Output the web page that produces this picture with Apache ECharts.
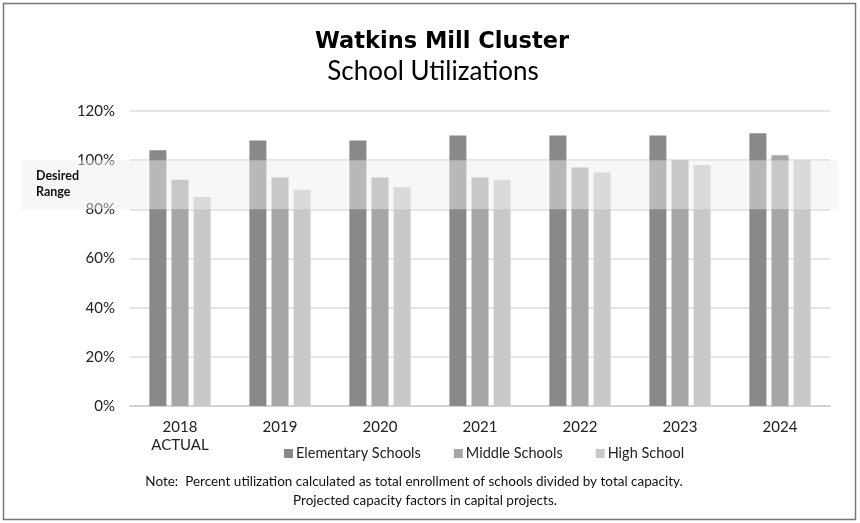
<!DOCTYPE html>
<html>
<head>
<meta charset="utf-8">
<script src="https://cdn.jsdelivr.net/npm/echarts@6/dist/echarts.min.js"></script>
<style>
  html, body { margin: 0; padding: 0; background: #fff; }
  #chart { width: 860px; height: 523px; }
</style>
</head>
<body>
<div id="chart"></div>
<script>
// Данные графика
const years = ["2018\nACTUAL", "2019", "2020", "2021", "2022", "2023", "2024"];
const elementary = [104, 108, 108, 110, 110, 110, 111];
const middle = [92, 93, 93, 93, 97, 100, 102];
const high = [85, 88, 89, 92, 95, 98, 100];
const seriesNames = ["Elementary Schools", "Middle Schools", "High School"];
const desiredRange = [80, 100];

const FONT = "Lato, 'Open Sans', sans-serif";
const chart = echarts.init(document.getElementById("chart"));

const barSeries = (name, data, color) => ({
    name: name,
    type: "bar",
    data: data,
    barWidth: 17,
    barGap: "30%",
    itemStyle: { color: color },
    emphasis: { disabled: true }
});

chart.setOption({
    animation: false,
    title: [
        {
            text: "Watkins Mill Cluster",
            left: 437, textAlign: "center", top: 26,
            textStyle: { fontFamily: "'DejaVu Sans', sans-serif", fontSize: 22.5, fontWeight: "bold", color: "#000" }
        },
        {
            text: "School Utilizations",
            left: 428, textAlign: "center", top: 54,
            textStyle: { fontFamily: FONT, fontSize: 26, fontWeight: "normal", color: "#000" }
        }
    ],
    grid: { left: 130, right: 30, top: 111, bottom: 117 },
    legend: {
        data: seriesNames,
        left: 279, top: 441,
        itemWidth: 9, itemHeight: 9, itemGap: 33,
        icon: "rect",
        textStyle: { fontFamily: FONT, fontSize: 14.5, color: "#222", padding: [0, 0, 0, -2] }
    },
    xAxis: {
        type: "category",
        data: years,
        axisLine: { lineStyle: { color: "#d4d4d4", width: 2 } },
        axisTick: { show: false },
        axisLabel: { fontFamily: FONT, fontSize: 15, color: "#222", margin: 12, lineHeight: 18 }
    },
    yAxis: {
        type: "value",
        min: 0, max: 120, interval: 20,
        axisLabel: { formatter: "{value}%", fontFamily: FONT, fontSize: 15, color: "#222", margin: 15 },
        splitLine: { lineStyle: { color: "#dcdcdc", width: 1.5 } }
    },
    series: [
        barSeries(seriesNames[0], elementary, "#898989"),
        barSeries(seriesNames[1], middle, "#a6a6a6"),
        barSeries(seriesNames[2], high, "#c9c9c9")
    ]
});

// Полоса "Desired Range" поверх столбцов
const yTop = chart.convertToPixel({ yAxisIndex: 0 }, desiredRange[1]);
const yBot = chart.convertToPixel({ yAxisIndex: 0 }, desiredRange[0]);

chart.setOption({
    graphic: [
        {
            type: "rect", z: 100, silent: true,
            shape: { x: 22, y: yTop, width: 816, height: yBot - yTop },
            style: { fill: "rgba(238,238,238,0.47)" }
        },
        {
            type: "text", z: 101, silent: true,
            x: 36, y: (yTop + yBot) / 2 - 17,
            style: { text: "Desired\nRange", fontFamily: FONT, fontSize: 12.5, fontWeight: "bold", fill: "#111", lineHeight: 16 }
        },
        {
            type: "text", z: 101, silent: true,
            x: 414, y: 482,
            style: {
                text: "Note:  Percent utilization calculated as total enrollment of schools divided by total capacity.",
                fontFamily: FONT, fontSize: 13.5, fill: "#111", align: "center", verticalAlign: "middle"
            }
        },
        {
            type: "text", z: 101, silent: true,
            x: 425, y: 501,
            style: {
                text: "Projected capacity factors in capital projects.",
                fontFamily: FONT, fontSize: 13.5, fill: "#111", align: "center", verticalAlign: "middle"
            }
        },
        {
            type: "rect", z: 0, silent: true,
            shape: { x: 3.5, y: 3.5, width: 852, height: 516 },
            style: { fill: "none", stroke: "#777", lineWidth: 1.5 }
        }
    ]
});
</script>
</body>
</html>
